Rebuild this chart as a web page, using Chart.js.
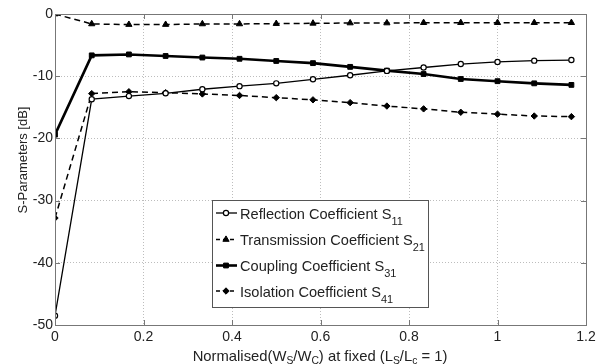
<!DOCTYPE html>
<html>
<head>
<meta charset="utf-8">
<script src="https://cdn.jsdelivr.net/npm/chart.js@4/dist/chart.umd.min.js"></script>
<style>
  html, body { margin: 0; padding: 0; background: #fff; }
  #wrap { width: 602px; height: 364px; }
</style>
</head>
<body>
<div id="wrap"><canvas id="c" width="602" height="364"></canvas></div>
<script>
// Normalised slot width Ws/Wc
const ratio = [0, 0.083, 0.167, 0.25, 0.333, 0.417, 0.5, 0.583, 0.667, 0.75, 0.833, 0.917, 1.0, 1.083, 1.167];

// S-parameters in dB
const s11 = [-48.5, -13.7, -13.2, -12.75, -12.1, -11.6, -11.15, -10.5, -9.85, -9.15, -8.6, -8.05, -7.7, -7.5, -7.4];
const s21 = [0, -1.6, -1.7, -1.7, -1.6, -1.6, -1.55, -1.5, -1.45, -1.45, -1.4, -1.4, -1.4, -1.4, -1.4];
const s31 = [-19.4, -6.65, -6.5, -6.75, -7.0, -7.2, -7.55, -7.9, -8.5, -9.1, -9.65, -10.45, -10.8, -11.15, -11.4];
const s41 = [-32.8, -12.8, -12.5, -12.65, -12.85, -13.1, -13.45, -13.8, -14.25, -14.8, -15.25, -15.8, -16.1, -16.4, -16.5];

const legendNames = ['Reflection Coefficient S', 'Transmission Coefficient S', 'Coupling Coefficient S', 'Isolation Coefficient S'];
const legendSubs = ['11', '21', '31', '41'];

const xTicks = [0, 0.2, 0.4, 0.6, 0.8, 1, 1.2];
const yTicks = [-50, -40, -30, -20, -10, 0];

const FONT = "'Liberation Sans', Arial, sans-serif";
const TEXT = '#222';

function pts(ys) { return ratio.map((x, i) => ({ x: x, y: ys[i] })); }

const series = [
  { data: s11, style: 'circle', r: 2.6, lw: 1.3, dash: [], fill: '#fff', bw: 1.2 },
  { data: s21, style: 'triangle', r: 3.6, lw: 1.5, dash: [6, 4], fill: '#000', bw: 1 },
  { data: s31, style: 'rect', r: 3.4, lw: 2.6, dash: [], fill: '#000', bw: 1 },
  { data: s41, style: 'rectRot', r: 3.2, lw: 1.5, dash: [6, 4], fill: '#000', bw: 1 }
];

const datasets = series.map((s, i) => ({
  label: legendNames[i] + legendSubs[i],
  data: pts(s.data),
  borderColor: '#000',
  backgroundColor: s.fill,
  borderWidth: s.lw,
  borderDash: s.dash,
  pointStyle: s.style,
  pointRadius: s.r,
  pointBorderWidth: s.bw,
  pointBorderColor: '#000',
  pointBackgroundColor: s.fill,
  tension: 0,
  fill: false
}));

// Draws text with subscripts; returns end x
function textWithSub(ctx, parts, x, y, size, subScale, subOff) {
  let cx = x;
  parts.forEach(p => {
    const fs = p.sub ? size * subScale : size;
    ctx.font = fs + 'px ' + FONT;
    ctx.fillText(p.t, cx, y + (p.sub ? subOff : 0));
    cx += ctx.measureText(p.t).width;
  });
  return cx;
}
function widthWithSub(ctx, parts, size, subScale) {
  let w = 0;
  parts.forEach(p => {
    ctx.font = (p.sub ? size * subScale : size) + 'px ' + FONT;
    w += ctx.measureText(p.t).width;
  });
  return w;
}

const decorations = {
  id: 'decorations',
  afterDraw(chart) {
    const ctx = chart.ctx;
    const a = chart.chartArea;
    const xs = chart.scales.x, ys = chart.scales.y;
    ctx.save();

    // plot frame
    ctx.strokeStyle = '#777';
    ctx.lineWidth = 1;
    ctx.setLineDash([]);
    ctx.strokeRect(a.left + 0.5, a.top + 0.5, a.right - a.left, a.bottom - a.top);

    // inward tick marks
    ctx.beginPath();
    xTicks.forEach(v => {
      const px = Math.round(xs.getPixelForValue(v)) + 0.5;
      ctx.moveTo(px, a.bottom); ctx.lineTo(px, a.bottom - 5);
      ctx.moveTo(px, a.top); ctx.lineTo(px, a.top + 5);
    });
    yTicks.forEach(v => {
      const py = Math.round(ys.getPixelForValue(v)) + 0.5;
      ctx.moveTo(a.left, py); ctx.lineTo(a.left + 5, py);
      ctx.moveTo(a.right, py); ctx.lineTo(a.right - 5, py);
    });
    ctx.stroke();

    // y axis title
    ctx.fillStyle = TEXT;
    ctx.font = '13px ' + FONT;
    ctx.textAlign = 'center';
    ctx.textBaseline = 'alphabetic';
    ctx.save();
    ctx.translate(26.5, 160);
    ctx.rotate(-Math.PI / 2);
    ctx.fillText('S-Parameters [dB]', 0, 0);
    ctx.restore();

    // x axis title with subscripts
    const title = [
      { t: 'Normalised(W' }, { t: 'S', sub: 1 }, { t: '/W' }, { t: 'C', sub: 1 },
      { t: ') at fixed (L' }, { t: 'S', sub: 1 }, { t: '/L' }, { t: 'c', sub: 1 }, { t: ' = 1)' }
    ];
    ctx.textAlign = 'left';
    ctx.textBaseline = 'alphabetic';
    const tw = widthWithSub(ctx, title, 14.8, 0.7);
    textWithSub(ctx, title, 320 - tw / 2, 361, 14.8, 0.7, 2.5);

    // legend
    const lx = 212, ly = 200, lw = 216, lh = 107;
    ctx.fillStyle = '#fff';
    ctx.fillRect(lx, ly, lw, lh);
    ctx.strokeStyle = '#555';
    ctx.lineWidth = 1;
    ctx.strokeRect(lx + 0.5, ly + 0.5, lw, lh);
    const rows = [213, 239.5, 265.5, 291];
    chart.data.datasets.forEach((ds, i) => {
      const y = rows[i];
      ctx.strokeStyle = '#000';
      ctx.lineWidth = ds.borderWidth;
      ctx.setLineDash(ds.borderDash.length ? [4, 3] : []);
      ctx.beginPath();
      ctx.moveTo(lx + 4, y); ctx.lineTo(lx + 25, y);
      ctx.stroke();
      ctx.setLineDash([]);
      ctx.fillStyle = ds.pointBackgroundColor;
      ctx.lineWidth = ds.pointBorderWidth;
      Chart.helpers.drawPoint(ctx, {
        pointStyle: ds.pointStyle, radius: ds.pointRadius, borderWidth: ds.pointBorderWidth, rotation: 0
      }, lx + 14, y);
      ctx.fillStyle = TEXT;
      ctx.textBaseline = 'alphabetic';
      textWithSub(ctx, [{ t: legendNames[i] }, { t: legendSubs[i], sub: 1 }], lx + 28, y + 5.5, 14.6, 0.75, 6);
    });
    ctx.restore();
  }
};

new Chart(document.getElementById('c'), {
  type: 'line',
  data: { datasets: datasets },
  options: {
    responsive: false,
    animation: false,
    devicePixelRatio: 1,
    layout: { padding: { left: 0, right: 16, top: 14, bottom: 0 } },
    plugins: { legend: { display: false }, tooltip: { enabled: false } },
    scales: {
      x: {
        type: 'linear', min: 0, max: 1.2,
        afterFit(s) { s.height = 39; },
        afterBuildTicks(s) { s.ticks = xTicks.map(v => ({ value: v })); },
        grid: { color: '#bdbdbd', drawTicks: false },
        border: { display: false, dash: [1, 2] },
        ticks: { color: TEXT, font: { family: FONT, size: 14 }, padding: 4, maxRotation: 0,
          callback: v => String(Math.round(v * 10) / 10) }
      },
      y: {
        type: 'linear', min: -50, max: 0,
        afterFit(s) { s.width = 55; },
        afterBuildTicks(s) { s.ticks = yTicks.map(v => ({ value: v })); },
        grid: { color: '#bdbdbd', drawTicks: false },
        border: { display: false, dash: [1, 2] },
        ticks: { color: TEXT, font: { family: FONT, size: 14 }, padding: 2 }
      }
    }
  },
  plugins: [decorations]
});
</script>
</body>
</html>
